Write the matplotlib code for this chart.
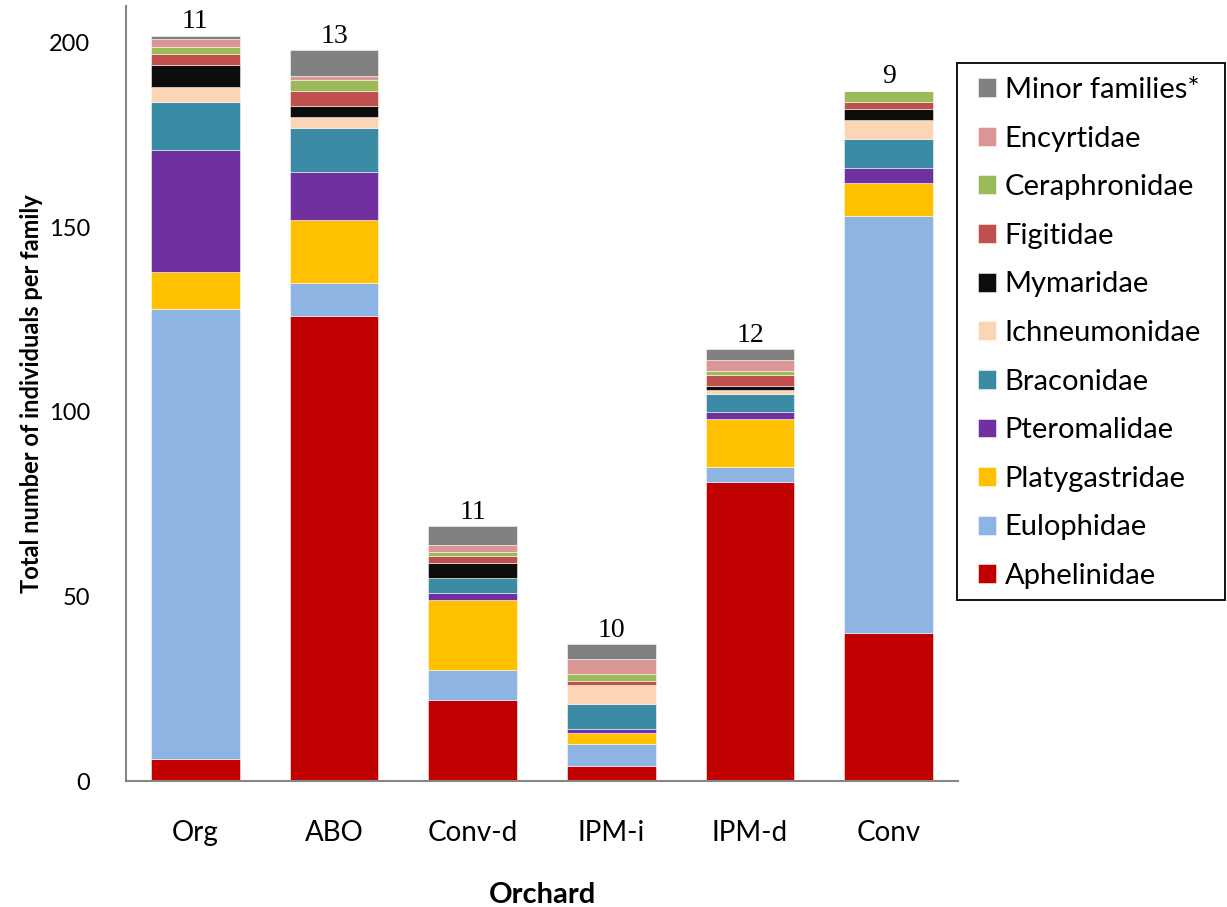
import matplotlib
matplotlib.use("Agg")
import matplotlib.pyplot as plt
from matplotlib.patches import Rectangle
import numpy as np

# Orchards and number of families recorded in each
orchards = ["Org", "ABO", "Conv-d", "IPM-i", "IPM-d", "Conv"]
n_families = [11, 13, 11, 10, 12, 9]

# Individuals per family (stack order: bottom to top)
families = ["Aphelinidae", "Eulophidae", "Platygastridae", "Pteromalidae",
            "Braconidae", "Ichneumonidae", "Mymaridae", "Figitidae",
            "Ceraphronidae", "Encyrtidae", "Minor families*"]
aphelinidae    = [6, 126, 22, 4, 81, 40]
eulophidae     = [122, 9, 8, 6, 4, 113]
platygastridae = [10, 17, 19, 3, 13, 9]
pteromalidae   = [33, 13, 2, 1, 2, 4]
braconidae     = [13, 12, 4, 7, 5, 8]
ichneumonidae  = [4, 3, 0, 5, 1, 5]
mymaridae      = [6, 3, 4, 0, 1, 3]
figitidae      = [3, 4, 2, 1, 3, 2]
ceraphronidae  = [2, 3, 1, 2, 1, 3]
encyrtidae     = [2, 1, 2, 4, 3, 0]
minor_families = [1, 7, 5, 4, 3, 0]

series = [aphelinidae, eulophidae, platygastridae, pteromalidae, braconidae,
          ichneumonidae, mymaridae, figitidae, ceraphronidae, encyrtidae,
          minor_families]
colors = ["#C00000", "#8EB4E3", "#FFC000", "#7030A0", "#3A8BA3", "#FCD5B5",
          "#0D0D0D", "#C0504D", "#9BBB59", "#D99694", "#808080"]

plt.rcParams["font.family"] = ["Lato", "DejaVu Sans"]

W, H = 1227, 907
fig = plt.figure(figsize=(W / 100, H / 100), dpi=100)
ax = fig.add_axes([0.1027, 0.1389, 0.6781, 0.8545])

x = np.arange(len(orchards))
bottom = np.zeros(len(orchards))
handles = []
for vals, name, col in zip(series, families, colors):
    v = np.array(vals, dtype=float)
    h = ax.bar(x, v, width=0.64, bottom=bottom, color=col, label=name,
               edgecolor=(1, 1, 1, 0.6), linewidth=0.6)
    handles.append(h)
    bottom += v

for xi, total, n in zip(x, bottom, n_families):
    ax.annotate(str(n), (xi, total), xytext=(0, 1), textcoords="offset points",
                ha="center", va="bottom", fontsize=20,
                family=["Liberation Serif"])

ax.set_xlim(-0.5, len(orchards) - 0.5)
ax.set_ylim(0, 210)
ax.set_yticks([0, 50, 100, 150, 200])
ax.set_xticks(x)
ax.set_xticklabels(orchards)
ax.tick_params(axis="both", length=0)
ax.tick_params(axis="y", pad=26, labelsize=17)
ax.tick_params(axis="x", pad=28, labelsize=20)

for side in ("top", "right"):
    ax.spines[side].set_visible(False)
for side in ("left", "bottom"):
    ax.spines[side].set_color("#868686")
    ax.spines[side].set_linewidth(1.5)

ax.set_ylabel("Total number of individuals per family", fontsize=17,
              fontweight="bold", labelpad=4)
ax.set_xlabel("Orchard", fontsize=21, fontweight="bold", labelpad=26)

# Legend entries, with the surrounding box drawn separately
leg = fig.legend(handles[::-1], families[::-1], loc="upper left",
                 bbox_to_anchor=(978 / W, 1 - 77 / H), frameon=False,
                 fontsize=21, handlelength=0.62, handleheight=0.62,
                 handletextpad=0.3, labelspacing=0.775, borderpad=0,
                 borderaxespad=0)
fig.patches.append(Rectangle((957 / W, 1 - 600 / H), (1225 - 957) / W,
                             (600 - 63) / H, transform=fig.transFigure,
                             fill=False, edgecolor="black", linewidth=1.3))

fig.savefig("out.png", dpi=100)
